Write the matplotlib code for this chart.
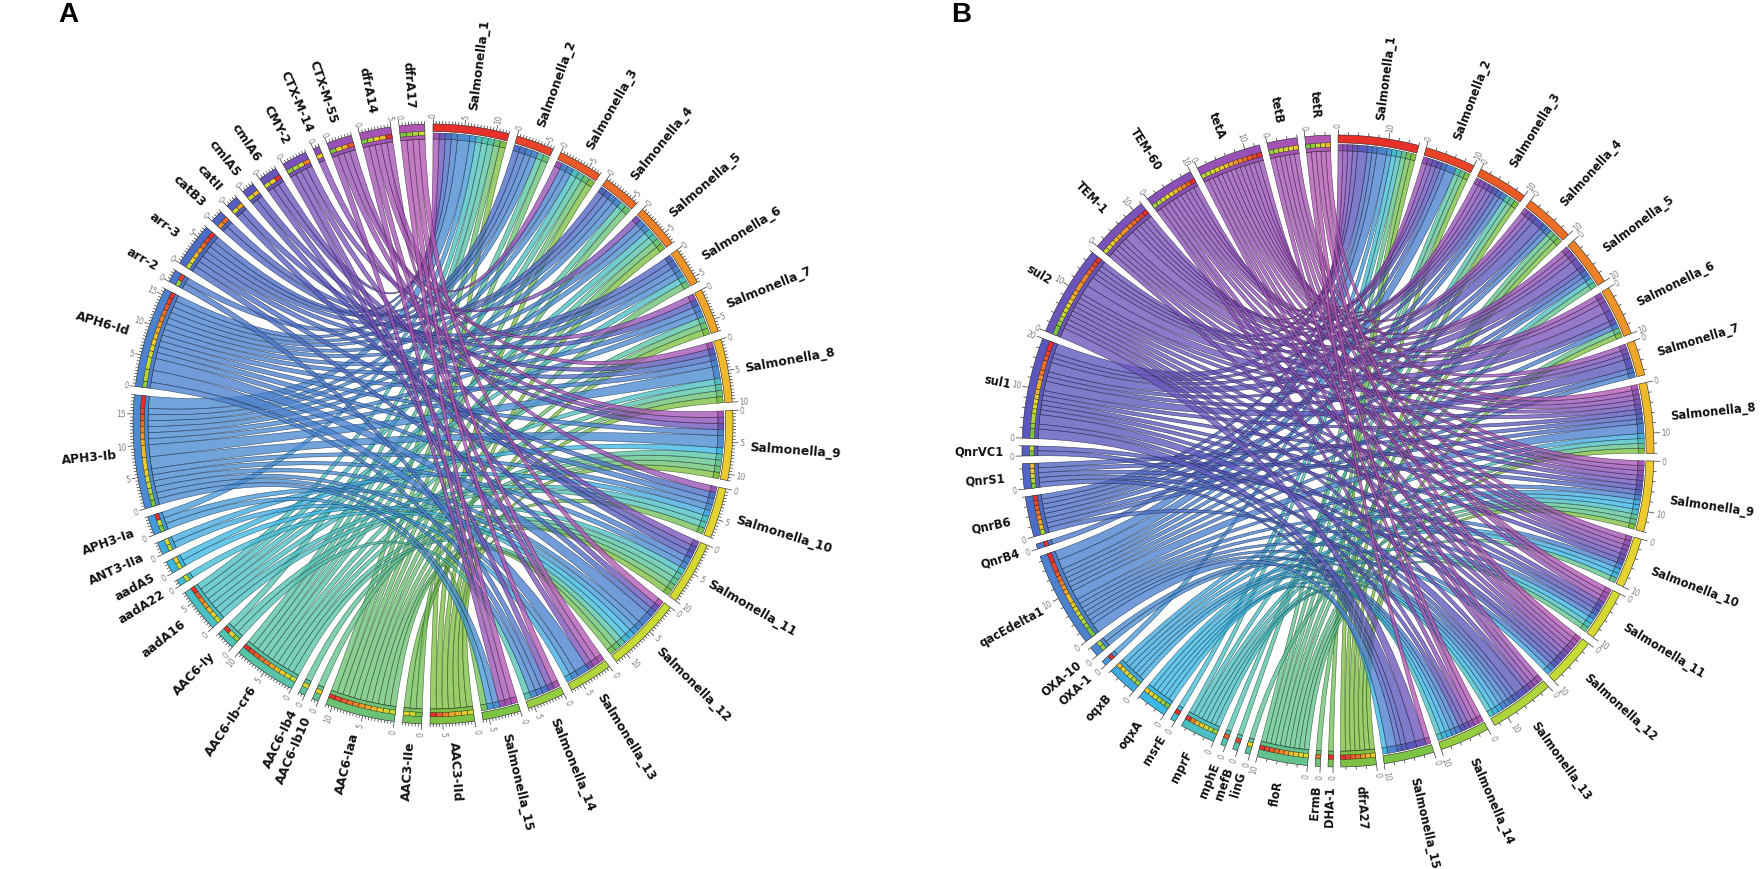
import numpy as np
from matplotlib import pyplot as plt
from matplotlib.path import Path
from matplotlib.patches import PathPatch, Polygon
from matplotlib.collections import LineCollection
from matplotlib.colors import LinearSegmentedColormap, to_rgb

ISOLATES = ['Salmonella_%d' % (i + 1) for i in range(15)]

# panel A: resistance genes, in circle order
GENES_A = ['AAC3-IId', 'AAC3-IIe', 'AAC6-Iaa', 'AAC6-Ib10', 'AAC6-Ib4', 'AAC6-Ib-cr6',
           'AAC6-Iy', 'aadA16', 'aadA22', 'aadA5', 'ANT3-IIa', 'APH3-Ia', 'APH3-Ib',
           'APH6-Id', 'arr-2', 'arr-3', 'catB3', 'catII', 'cmlA5', 'cmlA6', 'CMY-2',
           'CTX-M-14', 'CTX-M-55', 'dfrA14', 'dfrA17']
# one string per gene, one digit per isolate (Salmonella_1 .. Salmonella_15)
HITS_A = ['101010111010000',
          '000000000101001',
          '111111111011000',
          '000000001000000',
          '000000000010000',
          '111110111011000',
          '100000000100010',
          '101011010110000',
          '000000000001000',
          '000000001001000',
          '000000000100100',
          '100000000001001',
          '211111122111111',
          '111111111112210',
          '010000000000010',
          '110101010101000',
          '000101000000000',
          '000000100010000',
          '000000010010000',
          '100000001001000',
          '000010000010110',
          '000000001000000',
          '001000100100001',
          '100000011000101',
          '000000000001111']

# panel B
GENES_B = ['dfrA27', 'DHA-1', 'ErmB', 'floR', 'linG', 'mefB', 'mphE', 'mprF', 'msrE',
           'oqxA', 'oqxB', 'OXA-1', 'OXA-10', 'qacEdelta1', 'QnrB4', 'QnrB6', 'QnrS1',
           'QnrVC1', 'sul1', 'sul2', 'TEM-1', 'TEM-60', 'tetA', 'tetB', 'tetR']
HITS_B = ['111101011000000',
          '100000000000000',
          '000100000000000',
          '111111011110000',
          '000000001000000',
          '010000000000000',
          '001000000000000',
          '100010011010110',
          '100000000000000',
          '000000001110111',
          '000000011101110',
          '100000000000000',
          '000000000000110',
          '221111121111112',
          '100000000000000',
          '111110110000100',
          '000000011010101',
          '000000000001001',
          '211211211111212',
          '111122111111112',
          '111112111101000',
          '101011011101110',
          '111111111111100',
          '000000001111110',
          '000000010011011']

GENE_COLOURS = ['#7cc142', '#62c48c', '#52c4b4', '#3cb9e6', '#4a8bd3', '#4c6dc6',
                '#5a56bd', '#8a50b8', '#b256b4']
ISO_COLOURS = ['#e8302a', '#ec6a26', '#f0a02a', '#ecd22c', '#c6dc36', '#7cc444']

gene_cmap = LinearSegmentedColormap.from_list('genes', GENE_COLOURS)
iso_cmap = LinearSegmentedColormap.from_list('isolates', ISO_COLOURS)


def polar(cx, cy, R, theta, r):
    t = np.radians(theta)
    return cx + R * r * np.sin(t), cy - R * r * np.cos(t)


def arc(cx, cy, R, t1, t2, r):
    n = max(3, int(abs(t2 - t1) * 3) + 2)
    return [polar(cx, cy, R, t, r) for t in np.linspace(t1, t2, n)]


def band(ax, cx, cy, R, t1, t2, r1, r2, color, lw=0.4, z=3):
    pts = arc(cx, cy, R, t1, t2, r2) + arc(cx, cy, R, t2, t1, r1)
    ax.add_patch(Polygon(pts, closed=True, facecolor=color, edgecolor='#222222',
                         linewidth=lw, zorder=z))


def ribbon(ax, cx, cy, R, a1, a2, b1, b2, r, color):
    verts = arc(cx, cy, R, a1, a2, r)
    codes = [Path.MOVETO] + [Path.LINETO] * (len(verts) - 1)
    verts += [(cx, cy), polar(cx, cy, R, b1, r)]
    codes += [Path.CURVE3, Path.CURVE3]
    seg = arc(cx, cy, R, b1, b2, r)[1:]
    verts += seg
    codes += [Path.LINETO] * len(seg)
    verts += [(cx, cy), polar(cx, cy, R, a1, r)]
    codes += [Path.CURVE3, Path.CURVE3]
    rgb = np.array(to_rgb(color))
    ax.add_patch(PathPatch(Path(verts, codes), facecolor=(*rgb, 0.78),
                           edgecolor=(*(rgb * 0.4), 0.75), linewidth=0.45, zorder=2))


def radial_text(ax, x, y, theta, s, **kw):
    th = theta % 360
    if th < 180:
        rot, ha = 90 - th, 'left'
    else:
        rot, ha = 270 - th, 'right'
    ax.text(x, y, s, rotation=rot, ha=ha, va='center', rotation_mode='anchor', **kw)


def draw_panel(ax, genes, hits, cx, cy, R, gap, minor, major, name_size):
    mat = np.array([[int(c) for c in row] for row in hits])
    n_iso = len(ISOLATES)
    n_gene = len(genes)
    sizes = list(mat.sum(axis=0)) + list(mat.sum(axis=1))
    names = ISOLATES + genes
    colours = [iso_cmap(i / (n_iso - 1)) for i in range(n_iso)] + \
              [gene_cmap(i / (n_gene - 1)) for i in range(n_gene)]
    unit = (360.0 - gap * len(sizes)) / sum(sizes)
    starts = []
    t = 0.0
    for s in sizes:
        starts.append(t)
        t += s * unit + gap

    gene_span = {}
    iso_span = {}
    for g in range(n_gene):
        p = starts[n_iso + g]
        for s in range(n_iso - 1, -1, -1):
            if mat[g, s]:
                gene_span[g, s] = (p, p + mat[g, s] * unit)
                p += mat[g, s] * unit
    for s in range(n_iso):
        p = starts[s]
        for g in range(n_gene - 1, -1, -1):
            if mat[g, s]:
                iso_span[g, s] = (p, p + mat[g, s] * unit)
                p += mat[g, s] * unit

    r_rib = 0.95
    for g in range(n_gene):
        for s in range(n_iso):
            if mat[g, s]:
                a1, a2 = gene_span[g, s]
                b1, b2 = iso_span[g, s]
                ribbon(ax, cx, cy, R, a1, a2, b1, b2, r_rib, colours[n_iso + g])

    # segment bands
    for i, (st, sz) in enumerate(zip(starts, sizes)):
        end = st + sz * unit
        if i < n_iso:
            band(ax, cx, cy, R, st, end, 0.975, 1.0, colours[i])
        else:
            band(ax, cx, cy, R, st, end, r_rib, 1.0, colours[i])
    # caps showing the partner colour
    for (g, s), (a1, a2) in gene_span.items():
        band(ax, cx, cy, R, a1, a2, 0.962, 0.976, colours[s], lw=0.3, z=4)
    for (g, s), (b1, b2) in iso_span.items():
        band(ax, cx, cy, R, b1, b2, r_rib, 0.97, colours[n_iso + g], lw=0.3, z=4)

    # ticks, tick labels and names
    lines = []
    for i, (st, sz) in enumerate(zip(starts, sizes)):
        for k in np.arange(0, sz + 1e-6, minor):
            th = st + k * unit
            is_major = abs(k / major - round(k / major)) < 1e-6
            r2 = 1.02 if is_major else 1.01
            lines.append([polar(cx, cy, R, th, 1.0), polar(cx, cy, R, th, r2)])
            if is_major:
                x, y = polar(cx, cy, R, th, 1.024)
                radial_text(ax, x, y, th, '%d' % round(k), fontsize=5.5, color='#808080')
        mid = st + sz * unit / 2
        x, y = polar(cx, cy, R, mid, 1.058)
        radial_text(ax, x, y, mid, names[i], fontsize=name_size, fontweight='bold',
                    color='#111111')
    ax.add_collection(LineCollection(lines, colors='#333333', linewidths=0.5, zorder=3))


fig = plt.figure(figsize=(17.63, 8.7), dpi=100)
ax = fig.add_axes([0, 0, 1, 1])
ax.set_xlim(0, 1763)
ax.set_ylim(870, 0)
ax.axis('off')

draw_panel(ax, GENES_A, HITS_A, 433, 425, 300, 1.6, 0.5, 5, 8.9)
draw_panel(ax, GENES_B, HITS_B, 1338, 452, 316, 1.4, 2, 10, 8.3)

ax.text(58, 2, 'A', fontsize=20, fontweight='bold', family='Liberation Sans', va='top', ha='left')
ax.text(951, 2, 'B', fontsize=20, fontweight='bold', family='Liberation Sans', va='top', ha='left')

fig.savefig('out.png', dpi=100)
